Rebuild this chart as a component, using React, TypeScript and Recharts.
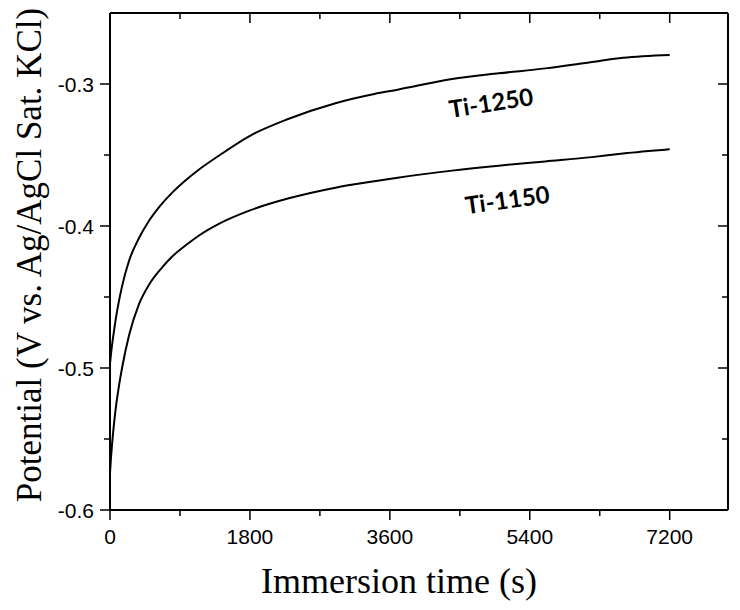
import { LineChart, Line, XAxis, YAxis, ReferenceDot } from 'recharts';

// immersion time (s) and open circuit potential (V vs Ag/AgCl)
const times = [0, 13, 26, 50, 77, 120, 155, 245, 373, 500, 650, 800, 1000, 1150, 1400, 1800, 2300, 2900, 3400, 3700, 4400, 5000, 5600, 6200, 6600, 7200];
const ti1250 = [-0.497, -0.49, -0.484, -0.4745, -0.4645, -0.4515, -0.4425, -0.4245, -0.4085, -0.3965, -0.3855, -0.3765, -0.3665, -0.36, -0.3505, -0.3365, -0.3245, -0.3135, -0.307, -0.304, -0.2965, -0.2925, -0.289, -0.2845, -0.2815, -0.2795];
const ti1150 = [-0.574, -0.563, -0.554, -0.54, -0.527, -0.511, -0.5, -0.477, -0.455, -0.4415, -0.4305, -0.4215, -0.4125, -0.4065, -0.3985, -0.389, -0.3805, -0.373, -0.3685, -0.366, -0.361, -0.3575, -0.3545, -0.3515, -0.349, -0.346];

const xMajor = [0, 1800, 3600, 5400, 7200];
const xMinor = [900, 2700, 4500, 6300];
const yMajor = [-0.6, -0.5, -0.4, -0.3];
const yMinor = [-0.55, -0.45, -0.35];

const labels = [
  { text: 'Ti-1250', t: 4900, v: -0.3127, angle: -9 },
  { text: 'Ti-1150', t: 5110, v: -0.381, angle: -8 },
];

const data = times.map((t, i) => ({ t, a: ti1250[i], b: ti1150[i] }));

const tickFont = '"Liberation Sans", Arial, sans-serif';
const titleFont = '"Liberation Serif", "Times New Roman", serif';
const isMajor = (list: number[], v: number) => list.some((m) => Math.abs(m - v) < 1e-6);

const BottomTick = ({ x, y, payload }: any) => {
  const major = isMajor(xMajor, payload.value);
  return (
    <g>
      <line x1={x} x2={x} y1={y} y2={y + (major ? 10 : 6)} stroke="#000" strokeWidth={1.5} />
      {major && (
        <text x={x} y={y + 34} textAnchor="middle" fontFamily={tickFont} fontSize={21} fill="#000">
          {payload.value}
        </text>
      )}
    </g>
  );
};

const TopTick = ({ x, y, payload }: any) => {
  const major = isMajor(xMajor, payload.value);
  return <line x1={x} x2={x} y1={y} y2={y + (major ? 10 : 6)} stroke="#000" strokeWidth={1.5} />;
};

const LeftTick = ({ x, y, payload }: any) => {
  const major = isMajor(yMajor, payload.value);
  return (
    <g>
      <line x1={x} x2={x - (major ? 10 : 6)} y1={y} y2={y} stroke="#000" strokeWidth={1.5} />
      {major && (
        <text x={x - 16} y={y + 7.5} textAnchor="end" fontFamily={tickFont} fontSize={21} fill="#000">
          {payload.value.toFixed(1)}
        </text>
      )}
    </g>
  );
};

const RightTick = ({ x, y, payload }: any) => {
  const major = isMajor(yMajor, payload.value);
  return <line x1={x} x2={x - (major ? 10 : 6)} y1={y} y2={y} stroke="#000" strokeWidth={1.5} />;
};

export default function App() {
  return (
    <div style={{ position: 'absolute', left: 0, top: 0, background: '#fff' }}>
      <LineChart width={740} height={610} data={data} margin={{ top: 12, right: 11, bottom: 0, left: 0 }}>
        <XAxis
          dataKey="t"
          type="number"
          domain={[0, 7950]}
          ticks={[...xMajor, ...xMinor]}
          interval={0}
          allowDataOverflow
          height={100}
          tickSize={0}
          tickMargin={0}
          tickLine={false}
          tick={<BottomTick />}
          axisLine={{ stroke: '#000', strokeWidth: 2 }}
        />
        <XAxis
          xAxisId="top"
          orientation="top"
          dataKey="t"
          type="number"
          domain={[0, 7950]}
          ticks={[...xMajor, ...xMinor]}
          interval={0}
          allowDataOverflow
          height={1}
          tickSize={0}
          tickMargin={0}
          tickLine={false}
          tick={<TopTick />}
          axisLine={{ stroke: '#000', strokeWidth: 2 }}
        />
        <YAxis
          type="number"
          domain={[-0.6, -0.25]}
          ticks={[...yMajor, ...yMinor]}
          interval={0}
          allowDataOverflow
          width={110}
          tickSize={0}
          tickMargin={0}
          tickLine={false}
          tick={<LeftTick />}
          axisLine={{ stroke: '#000', strokeWidth: 2 }}
        />
        <YAxis
          yAxisId="right"
          orientation="right"
          type="number"
          domain={[-0.6, -0.25]}
          ticks={[...yMajor, ...yMinor]}
          interval={0}
          allowDataOverflow
          width={1}
          tickSize={0}
          tickMargin={0}
          tickLine={false}
          tick={<RightTick />}
          axisLine={{ stroke: '#000', strokeWidth: 2 }}
        />
        <Line type="monotone" dataKey="a" stroke="#000" strokeWidth={2} dot={false} isAnimationActive={false} />
        <Line type="monotone" dataKey="b" stroke="#000" strokeWidth={2} dot={false} isAnimationActive={false} />
        {/* invisible series so the mirrored axes are drawn */}
        <Line xAxisId="top" yAxisId="right" dataKey="b" stroke="none" dot={false} activeDot={false} isAnimationActive={false} />
        {labels.map((l) => (
          <ReferenceDot
            key={l.text}
            x={l.t}
            y={l.v}
            r={0}
            ifOverflow="visible"
            shape={(p: any) => (
              <text
                x={p.cx}
                y={p.cy}
                textAnchor="middle"
                dominantBaseline="central"
                transform={`rotate(${l.angle} ${p.cx} ${p.cy})`}
                fontFamily="Lato, 'Open Sans', sans-serif"
                fontWeight={700}
                fontSize={24}
                fill="#000"
              >
                {l.text}
              </text>
            )}
          />
        ))}
        <text x={399} y={593} textAnchor="middle" fontFamily={titleFont} fontSize={36} fill="#000">
          Immersion time (s)
        </text>
        <text
          x={41}
          y={255}
          textAnchor="middle"
          transform="rotate(-90 41 255)"
          fontFamily={titleFont}
          fontSize={35}
          fill="#000"
        >
          Potential (V vs. Ag/AgCl Sat. KCl)
        </text>
      </LineChart>
    </div>
  );
}
